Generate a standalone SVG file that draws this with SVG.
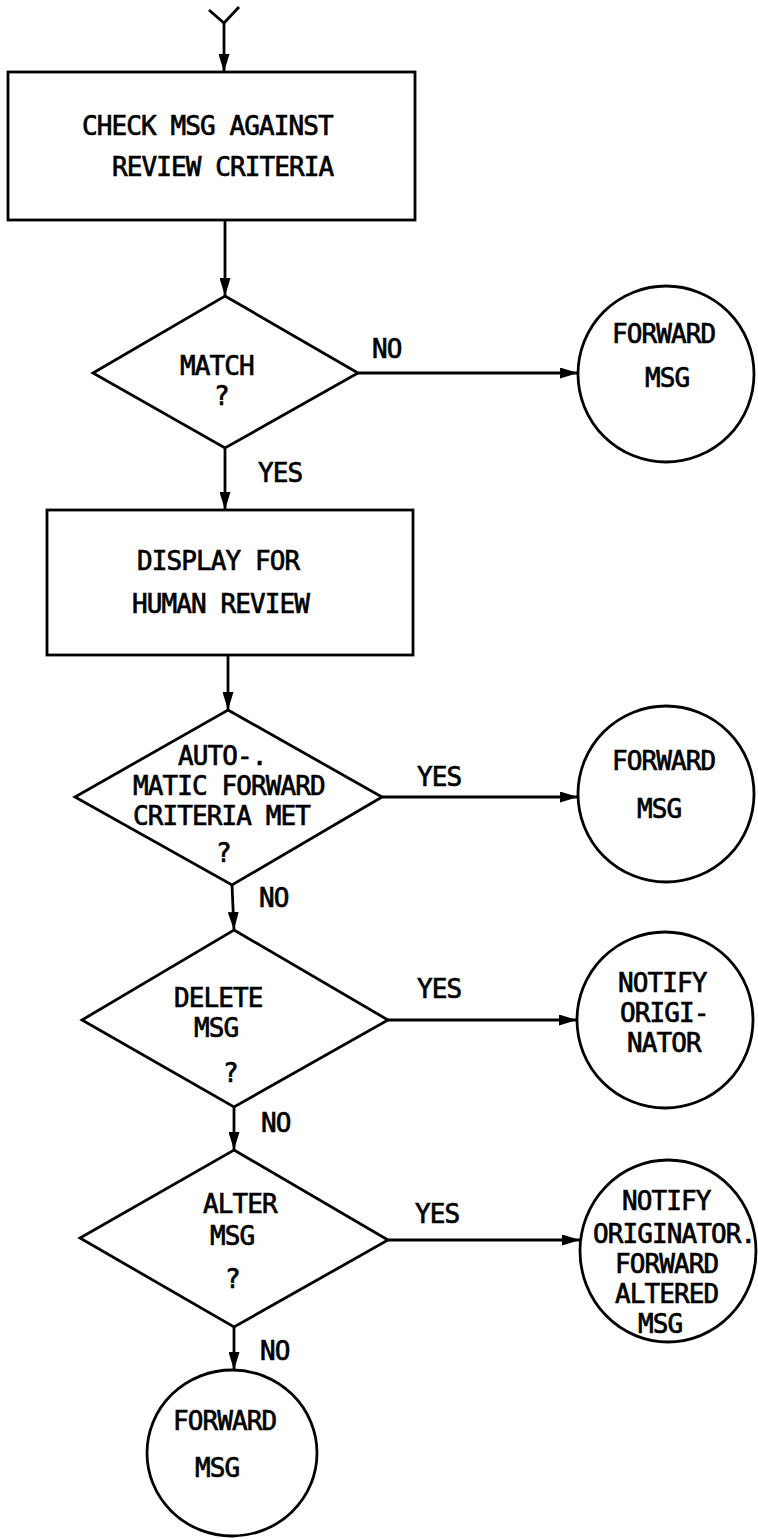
<svg xmlns="http://www.w3.org/2000/svg" width="758" height="1539" viewBox="0 0 758 1539">
<style>
.shape{fill:#fff;stroke:#000;stroke-width:2.8;stroke-linejoin:miter}
.line{fill:none;stroke:#000;stroke-width:2.8}
.t{font-family:"DejaVu Sans Mono","Liberation Mono",monospace;font-size:26px;letter-spacing:-0.9px;fill:#000;stroke:#000;stroke-width:0.7}
</style>
<defs>
<marker id="arr" markerUnits="userSpaceOnUse" viewBox="0 0 18 11" refX="18" refY="5.5" markerWidth="18" markerHeight="11" orient="auto">
<path d="M0,0 L18,5.5 L0,11 Z" fill="#000"/>
</marker>
</defs>
<rect width="758" height="1539" fill="#fff"/>
<g id="connectors">
<path class="line" d="M209,10 L224,23 L239,7"/>
<path class="line" d="M224,23 V72" marker-end="url(#arr)"/>
<path class="line" d="M225,220 V296" marker-end="url(#arr)"/>
<path class="line" d="M358,373 H578" marker-end="url(#arr)"/>
<path class="line" d="M225,448 V510" marker-end="url(#arr)"/>
<path class="line" d="M228,655 V710" marker-end="url(#arr)"/>
<path class="line" d="M382,797 H578" marker-end="url(#arr)"/>
<path class="line" d="M232,885 L234,930" marker-end="url(#arr)"/>
<path class="line" d="M388,1020 H577" marker-end="url(#arr)"/>
<path class="line" d="M234,1107 V1150" marker-end="url(#arr)"/>
<path class="line" d="M388,1240 H580" marker-end="url(#arr)"/>
<path class="line" d="M234,1327 V1370" marker-end="url(#arr)"/>
<text class="t" x="372" y="358">NO</text>
<text class="t" x="258" y="482">YES</text>
<text class="t" x="417" y="786">YES</text>
<text class="t" x="259" y="907">NO</text>
<text class="t" x="417" y="998">YES</text>
<text class="t" x="261" y="1132">NO</text>
<text class="t" x="415" y="1223">YES</text>
<text class="t" x="260" y="1360">NO</text>
</g>
<g id="check-criteria">
<rect class="shape" x="8" y="72" width="407" height="148"/>
<text class="t" x="82" y="135">CHECK MSG AGAINST</text>
<text class="t" x="112" y="176">REVIEW CRITERIA</text>
</g>
<g id="match">
<polygon class="shape" points="225,296 358,373 225,448 93,373"/>
<text class="t" x="180" y="375">MATCH</text>
<text class="t" x="214" y="405">?</text>
</g>
<g id="forward-1">
<circle class="shape" cx="666" cy="374" r="88"/>
<text class="t" x="612" y="343">FORWARD</text>
<text class="t" x="645" y="387">MSG</text>
</g>
<g id="display-review">
<rect class="shape" x="47" y="510" width="366" height="145"/>
<text class="t" x="137" y="570">DISPLAY FOR</text>
<text class="t" x="132" y="613">HUMAN REVIEW</text>
</g>
<g id="auto-forward">
<polygon class="shape" points="228,710 382,797 232,885 75,797"/>
<text class="t" x="178" y="765">AUTO-.</text>
<text class="t" x="133" y="795">MATIC FORWARD</text>
<text class="t" x="133" y="825">CRITERIA MET</text>
<text class="t" x="216" y="862">?</text>
</g>
<g id="forward-2">
<circle class="shape" cx="666" cy="794" r="88"/>
<text class="t" x="612" y="770">FORWARD</text>
<text class="t" x="637" y="818">MSG</text>
</g>
<g id="delete">
<polygon class="shape" points="234,930 388,1020 234,1107 82,1020"/>
<text class="t" x="174" y="1007">DELETE</text>
<text class="t" x="194" y="1037">MSG</text>
<text class="t" x="223" y="1082">?</text>
</g>
<g id="notify-1">
<circle class="shape" cx="665" cy="1020" r="88"/>
<text class="t" x="618" y="992">NOTIFY</text>
<text class="t" x="620" y="1022">ORIGI-</text>
<text class="t" x="627" y="1052">NATOR</text>
</g>
<g id="alter">
<polygon class="shape" points="234,1150 388,1240 234,1327 80,1238"/>
<text class="t" x="203" y="1213">ALTER</text>
<text class="t" x="210" y="1245">MSG</text>
<text class="t" x="225" y="1288">?</text>
</g>
<g id="notify-forward">
<ellipse class="shape" cx="668" cy="1251" rx="88" ry="91"/>
<text class="t" x="622" y="1210">NOTIFY</text>
<text class="t" x="593" y="1243">ORIGINATOR.</text>
<text class="t" x="615" y="1273">FORWARD</text>
<text class="t" x="615" y="1303">ALTERED</text>
<text class="t" x="638" y="1333">MSG</text>
</g>
<g id="forward-3">
<ellipse class="shape" cx="232" cy="1453" rx="85" ry="83"/>
<text class="t" x="173" y="1430">FORWARD</text>
<text class="t" x="195" y="1477">MSG</text>
</g>
</svg>
